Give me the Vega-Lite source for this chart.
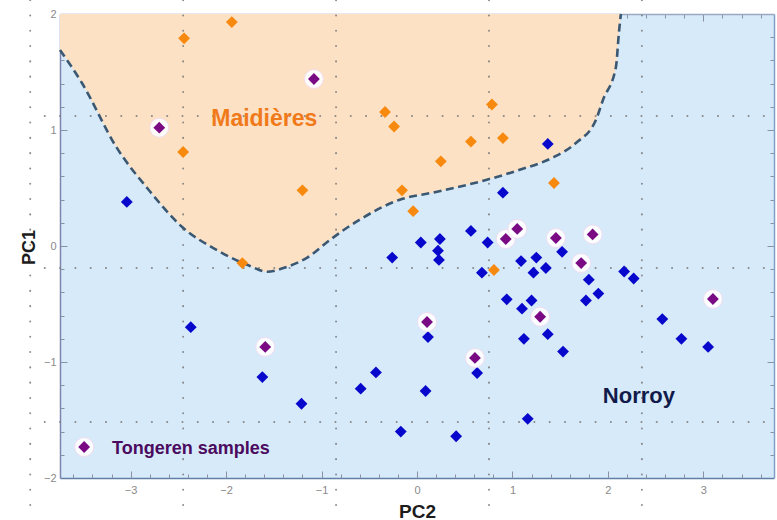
{
  "$schema": "https://vega.github.io/schema/vega-lite/v6.json",
  "width": 714,
  "height": 464,
  "autosize": {"type": "none"},
  "padding": {"left": 60, "top": 14, "right": 3, "bottom": 42},
  "background": "white",
  "config": {
    "view": {"fill": "#d7eafa", "stroke": null},
    "font": "Liberation Sans"
  },
  "datasets": {
    "boundary": [
      {"pc2": -3.74, "pc1": 1.69},
      {"pc2": -3.51, "pc1": 1.405},
      {"pc2": -3.15, "pc1": 0.853},
      {"pc2": -2.81, "pc1": 0.483},
      {"pc2": -2.46, "pc1": 0.164},
      {"pc2": -2.10, "pc1": -0.034},
      {"pc2": -1.75, "pc1": -0.172},
      {"pc2": -1.57, "pc1": -0.222},
      {"pc2": -1.40, "pc1": -0.19},
      {"pc2": -1.15, "pc1": -0.10},
      {"pc2": -0.90, "pc1": 0.06},
      {"pc2": -0.607, "pc1": 0.224},
      {"pc2": -0.188, "pc1": 0.397},
      {"pc2": 0.199, "pc1": 0.466},
      {"pc2": 0.723, "pc1": 0.569},
      {"pc2": 1.068, "pc1": 0.655},
      {"pc2": 1.414, "pc1": 0.759},
      {"pc2": 1.665, "pc1": 0.888},
      {"pc2": 1.874, "pc1": 1.086},
      {"pc2": 1.948, "pc1": 1.259},
      {"pc2": 2.084, "pc1": 1.543},
      {"pc2": 2.115, "pc1": 1.836},
      {"pc2": 2.136, "pc1": 2.0}
    ],
    "vgrid": [
      {"pc2": -4.052}, {"pc2": -2.45}, {"pc2": -0.848}, {"pc2": 0.754}, {"pc2": 2.356}
    ],
    "hgrid": [
      {"pc1": 1.121}, {"pc1": -0.19}, {"pc1": -1.517}
    ],
    "points": [
      {"pc2": -2.44, "pc1": 1.79, "g": "Maidières"},
      {"pc2": -1.94, "pc1": 1.93, "g": "Maidières"},
      {"pc2": -2.45, "pc1": 0.81, "g": "Maidières"},
      {"pc2": -0.335, "pc1": 1.155, "g": "Maidières"},
      {"pc2": -0.24, "pc1": 1.03, "g": "Maidières"},
      {"pc2": 0.785, "pc1": 1.22, "g": "Maidières"},
      {"pc2": 0.9, "pc1": 0.93, "g": "Maidières"},
      {"pc2": 0.565, "pc1": 0.9, "g": "Maidières"},
      {"pc2": 0.25, "pc1": 0.73, "g": "Maidières"},
      {"pc2": -1.2, "pc1": 0.48, "g": "Maidières"},
      {"pc2": -0.157, "pc1": 0.48, "g": "Maidières"},
      {"pc2": -0.04, "pc1": 0.3, "g": "Maidières"},
      {"pc2": 1.435, "pc1": 0.543, "g": "Maidières"},
      {"pc2": -1.83, "pc1": -0.147, "g": "Maidières"},
      {"pc2": 0.806, "pc1": -0.207, "g": "Maidières"},
      {"pc2": -3.04, "pc1": 0.38, "g": "Norroy"},
      {"pc2": -2.37, "pc1": -0.7, "g": "Norroy"},
      {"pc2": -1.62, "pc1": -1.13, "g": "Norroy"},
      {"pc2": -1.21, "pc1": -1.36, "g": "Norroy"},
      {"pc2": -0.59, "pc1": -1.23, "g": "Norroy"},
      {"pc2": -0.43, "pc1": -1.09, "g": "Norroy"},
      {"pc2": 0.09, "pc1": -1.25, "g": "Norroy"},
      {"pc2": 0.115, "pc1": -0.785, "g": "Norroy"},
      {"pc2": 0.63, "pc1": -1.095, "g": "Norroy"},
      {"pc2": -0.17, "pc1": -1.6, "g": "Norroy"},
      {"pc2": 0.41, "pc1": -1.64, "g": "Norroy"},
      {"pc2": 0.68, "pc1": -0.23, "g": "Norroy"},
      {"pc2": 0.94, "pc1": -0.46, "g": "Norroy"},
      {"pc2": 0.9, "pc1": 0.46, "g": "Norroy"},
      {"pc2": 0.565, "pc1": 0.13, "g": "Norroy"},
      {"pc2": 0.74, "pc1": 0.03, "g": "Norroy"},
      {"pc2": 0.04, "pc1": 0.03, "g": "Norroy"},
      {"pc2": 0.24, "pc1": 0.06, "g": "Norroy"},
      {"pc2": 0.22, "pc1": -0.04, "g": "Norroy"},
      {"pc2": 0.23, "pc1": -0.12, "g": "Norroy"},
      {"pc2": -0.26, "pc1": -0.1, "g": "Norroy"},
      {"pc2": 1.37, "pc1": 0.88, "g": "Norroy"},
      {"pc2": 1.09, "pc1": -0.13, "g": "Norroy"},
      {"pc2": 1.25, "pc1": -0.1, "g": "Norroy"},
      {"pc2": 1.35, "pc1": -0.19, "g": "Norroy"},
      {"pc2": 1.22, "pc1": -0.23, "g": "Norroy"},
      {"pc2": 1.52, "pc1": -0.05, "g": "Norroy"},
      {"pc2": 1.8, "pc1": -0.29, "g": "Norroy"},
      {"pc2": 1.9, "pc1": -0.41, "g": "Norroy"},
      {"pc2": 1.77, "pc1": -0.47, "g": "Norroy"},
      {"pc2": 1.2, "pc1": -0.47, "g": "Norroy"},
      {"pc2": 1.1, "pc1": -0.54, "g": "Norroy"},
      {"pc2": 2.17, "pc1": -0.22, "g": "Norroy"},
      {"pc2": 2.27, "pc1": -0.28, "g": "Norroy"},
      {"pc2": 1.12, "pc1": -0.8, "g": "Norroy"},
      {"pc2": 1.37, "pc1": -0.76, "g": "Norroy"},
      {"pc2": 1.53, "pc1": -0.91, "g": "Norroy"},
      {"pc2": 2.57, "pc1": -0.63, "g": "Norroy"},
      {"pc2": 2.77, "pc1": -0.8, "g": "Norroy"},
      {"pc2": 3.05, "pc1": -0.87, "g": "Norroy"},
      {"pc2": 1.16, "pc1": -1.49, "g": "Norroy"},
      {"pc2": -2.7, "pc1": 1.02, "g": "Tongeren"},
      {"pc2": -1.08, "pc1": 1.44, "g": "Tongeren"},
      {"pc2": -1.59, "pc1": -0.87, "g": "Tongeren"},
      {"pc2": 0.105, "pc1": -0.655, "g": "Tongeren"},
      {"pc2": 0.607, "pc1": -0.965, "g": "Tongeren"},
      {"pc2": 0.93, "pc1": 0.06, "g": "Tongeren"},
      {"pc2": 1.05, "pc1": 0.147, "g": "Tongeren"},
      {"pc2": 1.455, "pc1": 0.069, "g": "Tongeren"},
      {"pc2": 1.84, "pc1": 0.1, "g": "Tongeren"},
      {"pc2": 1.72, "pc1": -0.147, "g": "Tongeren"},
      {"pc2": 1.29, "pc1": -0.61, "g": "Tongeren"},
      {"pc2": 3.1, "pc1": -0.457, "g": "Tongeren"}
    ],
    "labels": [
      {"pc2": -1.60, "pc1": 1.034, "label": "Maidières", "k": "M"},
      {"pc2": 2.325, "pc1": -1.353, "label": "Norroy", "k": "N"},
      {"pc2": -3.194, "pc1": -1.793, "label": "Tongeren samples", "k": "T"},
      {"pc2": -3.487, "pc1": -1.733, "label": "", "k": "key"}
    ]
  },
  "layer": [
    {
      "layer": [
        {
          "data": {"name": "boundary"},
          "mark": {"type": "area", "interpolate": "monotone", "color": "#fde1c4", "opacity": 1},
          "encoding": {
            "x": {
              "field": "pc2", "type": "quantitative",
              "scale": {"domain": [-3.74, 3.74], "nice": false, "zero": false},
              "axis": {
                "orient": "bottom", "title": "PC2", "grid": false,
                "values": [-3, -2, -1, 0, 1, 2, 3],
                "format": "d",
                "labelOverlap": false, "labelFlush": false,
                "ticks": false,
                "domainColor": "#5f7fa6", "domainWidth": 1.5,
                "labelColor": "#8a8a8a", "labelFontSize": 11, "labelFont": "Liberation Sans",
                "labelPadding": 6,
                "titleFont": "Liberation Sans", "titleFontSize": 19, "titleFontWeight": "bold", "titleColor": "#1c1c1c",
                "titleY": 39, "titleBaseline": "alphabetic"
              }
            },
            "y": {
              "field": "pc1", "type": "quantitative",
              "scale": {"domain": [-2, 2], "nice": false, "zero": false},
              "axis": {
                "orient": "left", "title": "PC1", "grid": false,
                "values": [-2, -1, 0, 1, 2],
                "format": "d",
                "labelOverlap": false, "labelFlush": false,
                "ticks": false,
                "domainColor": "#7d84ad", "domainWidth": 1.5,
                "labelColor": "#8a8a8a", "labelFontSize": 11, "labelFont": "Liberation Sans",
                "labelPadding": 4,
                "titleFont": "Liberation Sans", "titleFontSize": 18, "titleFontWeight": "bold", "titleColor": "#1c1c1c",
                "titleX": -26, "titleY": 233, "titleBaseline": "alphabetic", "titleAlign": "center", "titleAngle": -90
              }
            },
            "y2": {"datum": 2}
          }
        },
        {
          "data": {"name": "vgrid"},
          "mark": {"type": "rule", "color": "#7a7a7a", "strokeWidth": 2, "strokeDash": [0.1, 15.2], "strokeCap": "round", "opacity": 0.85, "clip": false},
          "encoding": {
            "x": {"field": "pc2", "type": "quantitative"},
            "y": {"datum": 2.12},
            "y2": {"datum": -2.36}
          }
        },
        {
          "data": {"name": "hgrid"},
          "mark": {"type": "rule", "color": "#7a7a7a", "strokeWidth": 2, "strokeDash": [0.1, 15.2], "strokeCap": "round", "opacity": 0.85, "clip": false},
          "encoding": {
            "y": {"field": "pc1", "type": "quantitative"},
            "x": {"datum": -3.9},
            "x2": {"datum": 3.7}
          }
        },
        {
          "data": {"name": "boundary"},
          "mark": {"type": "line", "interpolate": "monotone", "color": "#3b5873", "strokeWidth": 2.6, "strokeDash": [8, 4.5]},
          "encoding": {
            "x": {"field": "pc2", "type": "quantitative"},
            "y": {"field": "pc1", "type": "quantitative"}
          }
        },
        {
          "data": {"name": "points"},
          "transform": [{"filter": "datum.g !== 'Tongeren'"}],
          "mark": {"type": "point", "shape": "diamond", "filled": true, "size": 140, "opacity": 1},
          "encoding": {
            "x": {"field": "pc2", "type": "quantitative"},
            "y": {"field": "pc1", "type": "quantitative"},
            "color": {"field": "g", "type": "nominal", "scale": {"domain": ["Maidières", "Norroy"], "range": ["#f7890f", "#0808cc"]}, "legend": null}
          }
        },
        {
          "data": {"name": "points"},
          "transform": [{"filter": "datum.g === 'Tongeren'"}],
          "mark": {"type": "point", "shape": "circle", "filled": true, "size": 360, "color": "#ffffff", "opacity": 0.92, "stroke": "#f3dcf0", "strokeWidth": 1},
          "encoding": {
            "x": {"field": "pc2", "type": "quantitative"},
            "y": {"field": "pc1", "type": "quantitative"}
          }
        },
        {
          "data": {"name": "points"},
          "transform": [{"filter": "datum.g === 'Tongeren'"}],
          "mark": {"type": "point", "shape": "diamond", "filled": true, "size": 140, "color": "#7a0a84", "opacity": 1},
          "encoding": {
            "x": {"field": "pc2", "type": "quantitative"},
            "y": {"field": "pc1", "type": "quantitative"}
          }
        },
        {
          "data": {"name": "labels"},
          "transform": [{"filter": "datum.k === 'key'"}],
          "mark": {"type": "point", "shape": "circle", "filled": true, "size": 360, "color": "#ffffff", "opacity": 0.92, "stroke": "#f3dcf0", "strokeWidth": 1},
          "encoding": {
            "x": {"field": "pc2", "type": "quantitative"},
            "y": {"field": "pc1", "type": "quantitative"}
          }
        },
        {
          "data": {"name": "labels"},
          "transform": [{"filter": "datum.k === 'key'"}],
          "mark": {"type": "point", "shape": "diamond", "filled": true, "size": 140, "color": "#7a0a84", "opacity": 1},
          "encoding": {
            "x": {"field": "pc2", "type": "quantitative"},
            "y": {"field": "pc1", "type": "quantitative"}
          }
        },
        {
          "data": {"name": "labels"},
          "transform": [{"filter": "datum.k === 'M'"}],
          "mark": {"type": "text", "align": "center", "baseline": "alphabetic", "fontSize": 23, "fontWeight": "bold", "font": "Liberation Sans", "color": "#f07a1a"},
          "encoding": {
            "x": {"field": "pc2", "type": "quantitative"},
            "y": {"field": "pc1", "type": "quantitative"},
            "text": {"field": "label"}
          }
        },
        {
          "data": {"name": "labels"},
          "transform": [{"filter": "datum.k === 'N'"}],
          "mark": {"type": "text", "align": "center", "baseline": "alphabetic", "fontSize": 22, "fontWeight": "bold", "font": "Liberation Sans", "color": "#121a4a"},
          "encoding": {
            "x": {"field": "pc2", "type": "quantitative"},
            "y": {"field": "pc1", "type": "quantitative"},
            "text": {"field": "label"}
          }
        },
        {
          "data": {"name": "labels"},
          "transform": [{"filter": "datum.k === 'T'"}],
          "mark": {"type": "text", "align": "left", "baseline": "alphabetic", "fontSize": 18, "fontWeight": "bold", "font": "Liberation Sans", "color": "#4b0b5e"},
          "encoding": {
            "x": {"field": "pc2", "type": "quantitative"},
            "y": {"field": "pc1", "type": "quantitative"},
            "text": {"field": "label"}
          }
        }
      ]
    },
    {
      "data": {"name": "labels"},
      "mark": {"type": "point", "opacity": 0},
      "encoding": {
        "x": {
          "field": "pc2", "type": "quantitative",
          "scale": {"domain": [-3.74, 3.74], "nice": false, "zero": false},
          "axis": {
            "orient": "bottom", "title": null, "grid": false, "labels": false, "domain": false,
            "values": [-3.6,-3.4,-3.2,-3,-2.8,-2.6,-2.4,-2.2,-2,-1.8,-1.6,-1.4,-1.2,-1,-0.8,-0.6,-0.4,-0.2,0,0.2,0.4,0.6,0.8,1,1.2,1.4,1.6,1.8,2,2.2,2.4,2.6,2.8,3,3.2,3.4,3.6],
            "tickSize": {"condition": {"test": "datum.value % 1 === 0", "value": -7}, "value": -4},
            "tickColor": "#8890a4", "tickWidth": 1
          }
        },
        "y": {
          "field": "pc1", "type": "quantitative",
          "scale": {"domain": [-2, 2], "nice": false, "zero": false},
          "axis": {
            "orient": "left", "title": null, "grid": false, "labels": false, "domain": false,
            "values": [-1.8,-1.6,-1.4,-1.2,-1,-0.8,-0.6,-0.4,-0.2,0,0.2,0.4,0.6,0.8,1,1.2,1.4,1.6,1.8],
            "tickSize": {"condition": {"test": "datum.value % 1 === 0", "value": -7}, "value": -4},
            "tickColor": "#8890a4", "tickWidth": 1
          }
        }
      }
    },
    {
      "data": {"name": "labels"},
      "mark": {"type": "point", "opacity": 0},
      "encoding": {
        "x": {
          "field": "pc2", "type": "quantitative",
          "scale": {"domain": [-3.74, 3.74], "nice": false, "zero": false},
          "axis": {
            "orient": "top", "title": null, "grid": false, "labels": false,
            "values": [-3.6,-3.4,-3.2,-3,-2.8,-2.6,-2.4,-2.2,-2,-1.8,-1.6,-1.4,-1.2,-1,-0.8,-0.6,-0.4,-0.2,0,0.2,0.4,0.6,0.8,1,1.2,1.4,1.6,1.8,2,2.2,2.4,2.6,2.8,3,3.2,3.4,3.6],
            "tickSize": {"condition": {"test": "datum.value % 1 === 0", "value": -7}, "value": -4},
            "tickColor": "#8890a4", "tickWidth": 1,
            "domainColor": "#9aa9c2", "domainWidth": 1.5
          }
        },
        "y": {
          "field": "pc1", "type": "quantitative",
          "scale": {"domain": [-2, 2], "nice": false, "zero": false},
          "axis": {
            "orient": "right", "title": null, "grid": false, "labels": false,
            "values": [-1.8,-1.6,-1.4,-1.2,-1,-0.8,-0.6,-0.4,-0.2,0,0.2,0.4,0.6,0.8,1,1.2,1.4,1.6,1.8],
            "tickSize": {"condition": {"test": "datum.value % 1 === 0", "value": -7}, "value": -4},
            "tickColor": "#8890a4", "tickWidth": 1,
            "domainColor": "#7f9fc4", "domainWidth": 1.5
          }
        }
      }
    }
  ],
  "resolve": {"axis": {"x": "independent", "y": "independent"}}
}
